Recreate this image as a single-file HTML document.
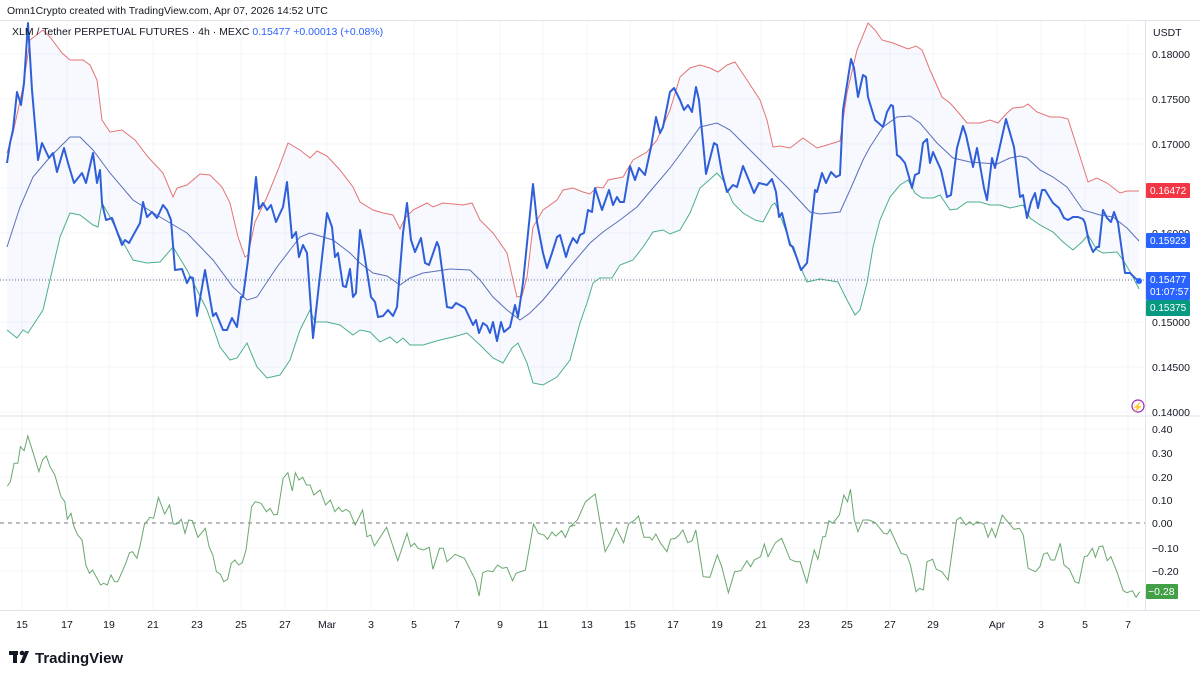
<!DOCTYPE html>
<html><head><meta charset="utf-8"><style>
body{margin:0;background:#fff;font-family:"Liberation Sans",sans-serif;}
#wrap{position:relative;width:1200px;height:679px;overflow:hidden;background:#fff}
svg{position:absolute;left:0;top:0}
.t{font-family:"Liberation Sans",sans-serif;}
</style></head><body><div id="wrap">
<svg id="s" width="1200" height="679" xmlns="http://www.w3.org/2000/svg"></svg>
</div>
<script>
const NS="http://www.w3.org/2000/svg",S=document.getElementById('s');
function el(n,a,txt){const e=document.createElementNS(NS,n);for(const k in a)e.setAttribute(k,a[k]);if(txt!==undefined)e.textContent=txt;S.appendChild(e);return e;}
function P(a){return a.map((p,i)=>(i?'L':'M')+p[0].toFixed(1)+' '+p[1].toFixed(1)).join(' ');}
const xs=[22,67,109,153,197,241,285,327,371,414,457,500,543,587,630,673,717,761,804,847,890,933,997,1041,1085,1128];
const xl=['15','17','19','21','23','25','27','Mar','3','5','7','9','11','13','15','17','19','21','23','25','27','29','Apr','3','5','7'];
xs.forEach(x=>{el('line',{x1:x,y1:20,x2:x,y2:610,stroke:'#f3f5fa','stroke-width':1});});
[54,99,144,188,233,278,322,367,412].forEach(y=>el('line',{x1:0,y1:y,x2:1145,y2:y,stroke:'#f3f5fa'}));
[429,453,477,500,548,571].forEach(y=>el('line',{x1:0,y1:y,x2:1145,y2:y,stroke:'#f3f5fa'}));
const red=[[7,153],[13,133],[23,87],[30,40],[43,30],[50,37],[62,53],[70,60],[83,60],[90,65],[97,80],[102,120],[110,132],[122,130],[135,140],[148,157],[163,173],[173,197],[177,188],[187,185],[200,174],[210,175],[222,187],[230,203],[238,237],[245,257],[248,255],[255,222],[267,197],[278,170],[288,143],[300,150],[310,158],[317,151],[327,156],[340,170],[353,187],[360,202],[373,210],[383,213],[393,215],[400,229],[405,218],[413,210],[427,203],[433,207],[443,203],[463,205],[472,203],[480,220],[493,233],[507,253],[513,280],[517,297],[522,296],[527,277],[533,227],[543,210],[557,200],[563,190],[573,188],[583,192],[590,194],[597,187],[603,188],[608,180],[623,177],[633,160],[647,152],[657,140],[670,110],[680,77],[690,68],[700,65],[710,68],[718,72],[727,65],[735,62],[747,80],[760,100],[767,120],[773,147],[780,146],[790,148],[803,138],[817,148],[827,145],[840,141],[847,93],[857,50],[868,23],[875,30],[882,40],[893,43],[908,49],[916,46],[922,50],[930,70],[942,97],[950,103],[958,112],[967,123],[980,123],[990,120],[998,123],[1007,113],[1013,108],[1023,107],[1028,104],[1037,112],[1050,117],[1060,117],[1068,119],[1077,147],[1088,182],[1097,178],[1107,183],[1120,193],[1127,191],[1139,191]];
const mid=[[7,247],[20,207],[33,177],[50,157],[70,137],[80,137],[93,150],[110,173],[133,200],[160,217],[187,233],[213,260],[233,287],[247,300],[257,297],[277,267],[290,250],[300,237],[310,233],[323,237],[333,240],[350,253],[360,263],[373,273],[387,276],[400,285],[410,278],[423,273],[437,271],[450,269],[470,270],[480,280],[493,297],[507,310],[520,320],[530,313],[543,300],[557,283],[573,263],[590,243],[603,232],[620,220],[637,207],[653,188],[670,168],[687,145],[700,127],[717,123],[730,130],[747,147],[767,167],[787,187],[810,212],[820,214],[840,212],[850,190],[863,160],[870,147],[883,127],[897,117],[910,116],[920,123],[937,143],[953,158],[970,162],[983,163],[997,164],[1010,158],[1020,156],[1027,158],[1040,170],[1053,177],[1067,187],[1083,210],[1100,215],[1113,217],[1127,228],[1139,241]];
const grn=[[7,330],[17,338],[23,330],[28,333],[43,310],[50,280],[60,237],[70,213],[80,215],[93,225],[98,227],[102,203],[110,217],[120,237],[133,260],[147,263],[160,262],[173,247],[187,270],[207,310],[220,347],[230,360],[237,358],[247,343],[257,367],[267,378],[280,375],[290,360],[300,330],[310,310],[315,322],[327,322],[340,325],[353,335],[360,330],[370,332],[380,342],[390,337],[397,343],[403,338],[410,345],[423,345],[440,340],[453,337],[467,333],[480,345],[493,358],[503,363],[512,348],[518,343],[527,363],[533,383],[543,385],[557,377],[570,360],[580,323],[587,303],[593,283],[600,278],[612,278],[620,265],[633,260],[643,247],[653,232],[663,230],[670,234],[680,230],[690,213],[700,188],[707,182],[717,173],[723,180],[733,203],[743,213],[755,220],[763,222],[772,205],[775,203],[783,223],[793,250],[807,282],[820,279],[838,282],[847,300],[855,315],[860,310],[867,283],[873,247],[880,220],[890,197],[900,185],[908,180],[915,193],[922,198],[933,198],[940,195],[950,210],[957,209],[967,202],[980,202],[990,205],[1000,205],[1010,208],[1023,205],[1030,218],[1040,225],[1053,232],[1063,242],[1073,250],[1082,242],[1088,235],[1097,250],[1103,253],[1117,252],[1123,260],[1132,275],[1139,289]];
const blue=[[7,163],[10,143],[13,130],[17,92],[21,105],[24,83],[28,23],[32,90],[38,160],[42,143],[49,158],[53,153],[57,172],[64,148],[68,163],[74,183],[82,173],[86,183],[93,153],[97,183],[100,170],[102,203],[106,220],[112,218],[122,245],[125,240],[129,243],[140,223],[143,202],[147,217],[152,212],[157,218],[163,205],[167,210],[171,220],[175,270],[182,269],[187,283],[190,277],[193,278],[197,316],[205,270],[213,316],[216,313],[223,330],[227,330],[232,318],[237,327],[241,297],[243,297],[248,260],[256,177],[259,209],[263,203],[267,210],[271,205],[276,222],[283,207],[287,182],[292,238],[296,232],[299,257],[303,245],[307,253],[313,338],[327,213],[332,227],[335,257],[338,253],[343,286],[346,287],[350,269],[353,297],[356,293],[360,230],[364,252],[371,297],[375,302],[378,317],[383,316],[388,310],[393,316],[397,307],[403,233],[407,203],[411,240],[415,252],[421,238],[425,263],[429,265],[437,242],[439,247],[447,307],[452,308],[456,303],[465,308],[473,325],[476,320],[479,333],[483,323],[487,326],[490,333],[493,322],[497,341],[501,322],[504,332],[510,327],[515,305],[518,317],[523,283],[533,184],[537,222],[543,253],[547,268],[552,253],[557,237],[560,235],[566,257],[569,247],[573,238],[577,243],[580,235],[584,233],[588,210],[592,212],[595,188],[602,210],[609,190],[613,205],[617,197],[620,202],[624,202],[630,166],[635,180],[639,168],[645,175],[651,147],[656,117],[660,133],[663,127],[670,92],[674,88],[680,100],[684,110],[688,105],[692,112],[696,87],[699,100],[706,174],[714,143],[717,145],[722,173],[727,192],[733,185],[737,187],[743,166],[750,183],[754,193],[759,183],[767,185],[772,179],[776,192],[779,217],[782,213],[790,245],[793,247],[801,270],[807,263],[815,190],[817,192],[822,173],[826,183],[831,172],[836,177],[840,175],[843,110],[851,59],[854,68],[858,97],[863,75],[866,77],[868,97],[875,120],[883,127],[887,112],[891,105],[893,106],[897,155],[900,157],[905,163],[909,177],[912,188],[915,175],[919,173],[923,143],[927,139],[930,163],[933,152],[941,170],[947,197],[951,195],[957,148],[963,126],[966,135],[973,167],[977,148],[984,188],[987,200],[992,158],[995,168],[1006,119],[1014,147],[1020,197],[1023,195],[1027,218],[1031,202],[1035,193],[1038,208],[1042,190],[1045,190],[1053,203],[1059,208],[1064,218],[1068,220],[1073,217],[1078,217],[1083,219],[1085,223],[1089,242],[1093,252],[1097,247],[1099,247],[1103,210],[1107,218],[1111,222],[1114,212],[1118,223],[1125,273],[1130,273],[1135,278],[1139,281]];
el('path',{d:P(red)+' '+P(grn.slice().reverse()).replace('M','L')+' Z',fill:'#2962ff','fill-opacity':0.04,stroke:'none'});
el('path',{d:P(red),fill:'none',stroke:'#e57373','stroke-width':1});
el('path',{d:P(grn),fill:'none',stroke:'#4caf8a','stroke-width':1});
el('path',{d:P(mid),fill:'none',stroke:'#5b6fb8','stroke-width':1});
el('line',{x1:0,y1:280,x2:1145,y2:280,stroke:'#5d6a88','stroke-width':1,'stroke-dasharray':'1 2'});
el('path',{d:P(blue),fill:'none',stroke:'#2f5fd8','stroke-width':2,'stroke-linejoin':'round'});
el('circle',{cx:1139,cy:281,r:3,fill:'#2962ff'});
const o1=[[20,198],[28,185],[38,130],[48,130],[55,80],[65,92],[75,48],[90,100],[105,155],[115,120],[125,108],[135,140],[148,165],[165,230],[175,245],[182,298],[192,280],[200,320],[210,345],[222,360],[232,435],[242,460],[250,450],[272,495],[280,490],[290,495],[300,465],[310,485],[318,485],[340,430],[350,398],[358,395],[370,415],[380,370],[390,315],[405,292],[415,295],[428,232],[445,282],[458,255],[468,312],[478,312],[490,298],[500,340],[510,300],[520,302],[535,352],[555,325],[565,380],[575,405],[585,455],[595,462],[605,485],[615,478],[625,430],[635,420],[645,435],[655,428],[665,390],[680,260],[690,245],[705,250],[720,275],[730,265],[740,285],[750,283],[765,175],[778,158],[790,213],[798,158],[808,180],[818,172],[828,195],[838,195],[848,225],[865,210],[880,255],[893,240],[905,275],[915,262],[925,275],[935,268],[945,275],[960,315],[980,270],[992,350],[1002,345],[1012,378],[1045,322],[1075,422],[1100,340],[1110,380],[1120,370],[1130,385],[1145,390],[1160,382],[1170,448],[1188,385],[1198,385],[1208,425],[1230,403],[1255,415],[1285,480],[1295,528],[1305,458],[1318,452],[1332,455],[1345,435],[1358,445],[1370,442],[1385,482],[1395,460],[1420,450],[1442,312],[1455,340],[1470,345],[1480,358],[1492,336],[1502,348],[1518,332],[1528,352],[1540,320],[1555,315]].map(p=>[p[0]*0.37,420+p[1]/3]);
const o2=[[0,320],[20,300],[42,245],[68,222],[80,300],[95,395],[110,365],[125,325],[145,368],[158,312],[175,300],[185,288],[200,352],[215,352],[222,360],[232,342],[245,370],[262,395],[272,358],[285,355],[295,345],[305,330],[318,368],[330,362],[340,330],[360,470],[378,472],[398,405],[410,440],[428,518],[445,455],[462,452],[478,422],[488,440],[498,420],[515,410],[525,372],[535,410],[555,368],[572,355],[595,418],[610,425],[622,425],[640,488],[660,390],[670,418],[683,350],[690,350],[700,302],[710,310],[728,285],[740,225],[750,245],[758,208],[768,298],[778,335],[792,300],[808,300],[825,308],[848,340],[858,342],[865,328],[895,400],[910,405],[920,435],[935,515],[945,505],[955,510],[965,425],[980,418],[990,448],[1005,455],[1022,480],[1045,300],[1055,292],[1070,315],[1080,305],[1090,315],[1100,305],[1118,312],[1130,352],[1140,325],[1150,352],[1168,285],[1185,308],[1200,328],[1215,325],[1225,345],[1238,445],[1258,455],[1270,440],[1280,402],[1290,398],[1300,420],[1310,420],[1325,370],[1335,435],[1350,448],[1365,485],[1375,490],[1390,410],[1398,408],[1412,385],[1420,412],[1430,380],[1440,378],[1452,422],[1462,410],[1478,455],[1495,512],[1505,518],[1520,512],[1530,532],[1540,515]].map(p=>[570+p[0]*0.37,420+p[1]/3]);
el('line',{x1:0,y1:523,x2:1145,y2:523,stroke:'#787b86','stroke-width':1,'stroke-dasharray':'4 4'});
el('path',{d:P(o1.concat(o2)),fill:'none',stroke:'#6aa86f','stroke-width':1});
el('line',{x1:0,y1:416,x2:1200,y2:416,stroke:'#e0e3eb'});
el('line',{x1:1145.5,y1:20,x2:1145.5,y2:610,stroke:'#e0e3eb'});
el('line',{x1:0,y1:610.5,x2:1200,y2:610.5,stroke:'#e0e3eb'});
el('line',{x1:0,y1:20.5,x2:1200,y2:20.5,stroke:'#e0e3eb'});
const pl=[['0.18000',54],['0.17500',99],['0.17000',144],['0.16500',188],['0.16000',233],['0.15500',278],['0.15000',322],['0.14500',367],['0.14000',412]];
pl.forEach(a=>el('text',{x:1152,y:a[1]+4,'font-size':10.5,fill:'#131722',class:'t'},a[0]));
[['0.40',429],['0.30',453],['0.20',477],['0.10',500],['0.00',523],['−0.10',548],['−0.20',571]].forEach(a=>el('text',{x:1152,y:a[1]+4,'font-size':10.5,fill:'#131722',class:'t'},a[0]));
el('text',{x:1153,y:36,'font-size':10.5,fill:'#131722',class:'t'},'USDT');
function box(y,h,c,lines){el('rect',{x:1146,y:y,width:44,height:h,fill:c,rx:1});lines.forEach((l,i)=>el('text',{x:1150,y:y+11+i*12,'font-size':10,fill:'#fff',class:'t'},l));}
box(183,15,'#f23645',['0.16472']);
box(233,15,'#2962ff',['0.15923']);
box(272,28,'#2962ff',['0.15477','01:07:57']);
box(300,16,'#089981',['0.15375']);
el('rect',{x:1146,y:584,width:32,height:15,fill:'#43a047',rx:1});
el('text',{x:1148,y:595,'font-size':10.5,fill:'#fff',class:'t'},'−0.28');
xs.forEach((x,i)=>el('text',{x:x,y:628,'font-size':10.5,fill:'#131722','text-anchor':'middle',class:'t'},xl[i]));
el('circle',{cx:1138,cy:406,r:6,fill:'none',stroke:'#9c27b0','stroke-width':1.2});
el('text',{x:1138,y:410,'font-size':9,fill:'#9c27b0','text-anchor':'middle',class:'t'},'⚡');
el('text',{x:7,y:14,'font-size':10.5,fill:'#131722',class:'t'},'Omn1Crypto created with TradingView.com, Apr 07, 2026 14:52 UTC');
const lg=el('text',{x:12,y:35,'font-size':10.5,fill:'#131722',class:'t'});
lg.innerHTML='XLM / Tether PERPETUAL FUTURES · 4h · MEXC  <tspan fill="#2962ff">0.15477  +0.00013 (+0.08%)</tspan>';
el('rect',{x:9,y:651,width:9,height:4,fill:'#131722'});el('rect',{x:13,y:651,width:4,height:12,fill:'#131722'});
el('circle',{cx:22,cy:653,r:2.3,fill:'#131722'});
el('path',{d:'M25 651 L29 651 L24 663 L20 663 Z',fill:'#131722'});
el('text',{x:35,y:663,'font-size':15,'font-weight':'bold',fill:'#131722',class:'t'},'TradingView');
</script></body></html>
